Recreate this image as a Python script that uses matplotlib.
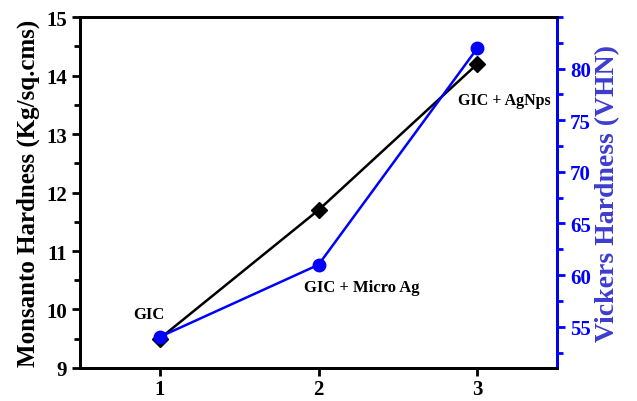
import matplotlib
matplotlib.use('Agg')
from matplotlib import pyplot as plt
from matplotlib.ticker import MultipleLocator

samples = [1, 2, 3]
labels = ['GIC', 'GIC + Micro Ag', 'GIC + AgNps']
monsanto = [9.5, 11.7, 14.2]
vickers = [54, 61, 82]

plt.rcParams['font.family'] = ['Liberation Serif', 'DejaVu Serif']
plt.rcParams['font.weight'] = 'bold'

fig = plt.figure(figsize=(6.37, 4.02), dpi=100)
ax = fig.add_axes([0.1256, 0.0821, 0.7488, 0.8731])
ax2 = ax.twinx()

ax.plot(samples, monsanto, color='black', marker='D', markersize=8, linewidth=1.8, zorder=3)
ax2.plot(samples, vickers, color='#0000ff', marker='o', markersize=9, linewidth=1.8, zorder=4)

ax.set_xlim(0.5, 3.5)
ax.set_ylim(9, 15)
ax2.set_ylim(51, 85)

ax.xaxis.set_major_locator(MultipleLocator(1))
ax.yaxis.set_major_locator(MultipleLocator(1))
ax.yaxis.set_minor_locator(MultipleLocator(0.5))
ax2.yaxis.set_minor_locator(MultipleLocator(2.5))
ax2.set_yticks([55, 60, 65, 70, 75, 80])

for s in ax.spines.values():
    s.set_linewidth(2)
for s in ax2.spines.values():
    s.set_linewidth(2)
ax2.spines['right'].set_color('#0000ff')

ax.tick_params(axis='both', which='major', direction='out', length=6, width=2, labelsize=15)
ax.tick_params(axis='y', which='minor', direction='out', length=4, width=2)
ax.tick_params(axis='x', pad=2)
ax2.tick_params(axis='y', which='major', direction='out', length=6, width=2, labelsize=15,
                colors='#0000ff')
ax2.tick_params(axis='y', which='minor', direction='out', length=4, width=2, color='#0000ff')

ax.set_ylabel('Monsanto Hardness (Kg/sq.cms)', fontsize=18, fontweight='bold', labelpad=4)
ax2.set_ylabel('Vickers Hardness (VHN)', fontsize=20, fontweight='bold', color='#3c3cd0', labelpad=3)

# point labels
ax.text(0.93, 9.78, labels[0], fontsize=12, fontweight='bold', ha='center', va='bottom')
ax.text(2.27, 10.25, labels[1], fontsize=12, fontweight='bold', ha='center', va='bottom')
ax.text(3.46, 13.45, labels[2], fontsize=11.5, fontweight='bold', ha='right', va='bottom')

fig.savefig('out.png', dpi=100)
